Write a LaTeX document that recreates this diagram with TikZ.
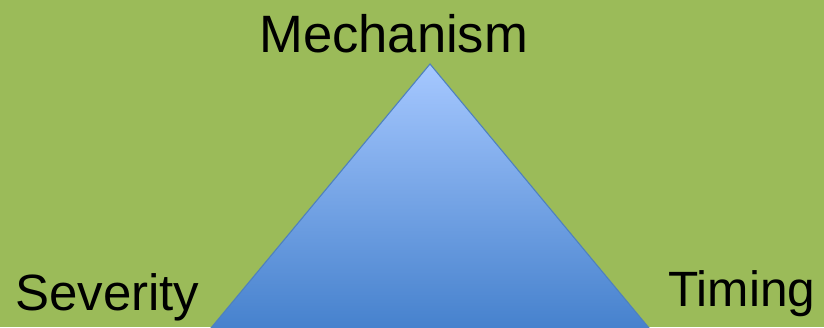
\documentclass[tikz,border=0pt]{standalone}
\usepackage{fontspec}
\setmainfont{Liberation Sans}
\definecolor{leafgreen}{RGB}{155,187,89}
\definecolor{skytop}{RGB}{166,200,255}
\definecolor{skybottom}{RGB}{68,128,204}
\definecolor{edgeblue}{RGB}{79,129,189}
\begin{document}
\begin{tikzpicture}[x=1bp,y=-1bp,
  corner/.style={anchor=base west,inner sep=0pt,font=\fontsize{51bp}{60bp}\selectfont},
  pyramid/.style={draw=edgeblue,line width=1.1bp,top color=skytop,bottom color=skybottom}]
  \fill[leafgreen] (0,0) rectangle (824,327);
  \useasboundingbox (0,0) rectangle (824,327);
  \clip (0,0) rectangle (824,327);
  \coordinate (apex) at (430,64);
  \coordinate (baseL) at (206,334);
  \coordinate (baseR) at (654,334);
  \shade[pyramid] (apex) -- (baseL) -- (baseR) -- cycle;
  \node[corner,font=\fontsize{52.6bp}{60bp}\selectfont] (mechanism) at (259,52) {Mechanism};
  \node[corner] (severity) at (15,310) {Severity};
  \node[corner,font=\fontsize{49.6bp}{60bp}\selectfont] (timing) at (668,306) {Timing};
\end{tikzpicture}
\end{document}
